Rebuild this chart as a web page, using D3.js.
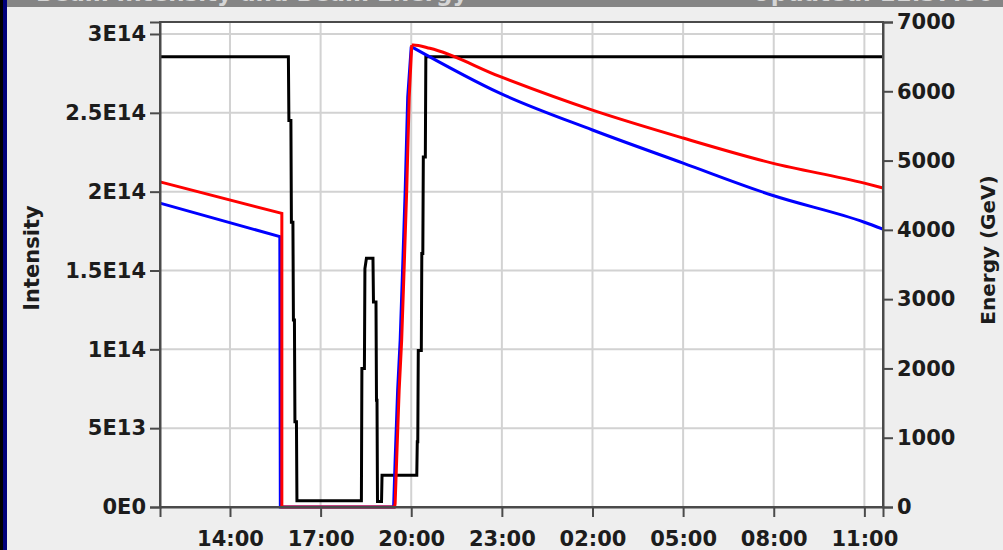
<!DOCTYPE html>
<html>
<head>
<meta charset="utf-8">
<script src="https://cdn.jsdelivr.net/npm/d3@7"></script>
<style>
  body { margin: 0; background: #eeeeee; }
  svg { display: block; }
  text { font-family: "DejaVu Sans", Verdana, sans-serif; font-weight: bold; fill: #1c1c1c; }
</style>
</head>
<body>
<div id="chart"></div>
<script>
// beam energy (black, right axis), GeV
var energyTimes = ["01 11:41", "01 15:56", "01 15:57", "01 16:01", "01 16:02", "01 16:05", "01 16:06",
  "01 16:08", "01 16:09", "01 16:12", "01 16:13", "01 18:21", "01 18:22", "01 18:27", "01 18:28",
  "01 18:31", "01 18:44", "01 18:45", "01 18:50", "01 18:51", "01 18:52", "01 18:53", "01 19:01",
  "01 19:02", "01 20:11", "01 20:12", "01 20:13", "01 20:14", "01 20:20", "01 20:21", "01 20:23",
  "01 20:24", "01 20:28", "01 20:29", "02 11:37"];
var energyValues = [6500, 6500, 5580, 5580, 4110, 4110, 2700,
  2700, 1230, 1230, 90, 90, 2000, 2000, 3440,
  3590, 3590, 2960, 2960, 1540, 1540, 80, 80,
  460, 460, 940, 940, 2260, 2260, 3660, 3660,
  5050, 5050, 6500, 6500];

// beam 1 intensity (red, left axis), units of 1E14
var beam1Times = ["01 11:41", "01 15:43", "01 15:43", "01 19:27", "01 19:28", "01 19:31", "01 19:36",
  "01 19:41", "01 19:46", "01 19:51", "01 19:56", "01 20:01", "01 20:04", "01 20:37", "01 22:57",
  "02 02:00", "02 05:00", "02 07:57", "02 11:00", "02 11:37"];
var beam1Values = [2.062, 1.862, 0, 0, 0.022, 0.296, 0.741,
  1.058, 1.523, 2.01, 2.60, 2.93, 2.93, 2.909, 2.729,
  2.517, 2.340, 2.181, 2.054, 2.023];

// beam 2 intensity (blue, left axis), units of 1E14
var beam2Times = ["01 11:41", "01 15:39", "01 15:40", "01 19:25", "01 19:28", "01 19:33", "01 19:38",
  "01 19:43", "01 19:48", "01 19:53", "01 20:00", "01 22:57",
  "02 02:00", "02 05:00", "02 07:57", "02 11:00", "02 11:37"];
var beam2Values = [1.927, 1.715, 0, 0, 0.296, 0.741, 1.058,
  1.523, 2.01, 2.60, 2.92, 2.623,
  2.391, 2.181, 1.977, 1.806, 1.762];

var intensityTicks = [0, 0.5, 1, 1.5, 2, 2.5, 3];
var intensityLabels = ["0E0", "5E13", "1E14", "1.5E14", "2E14", "2.5E14", "3E14"];
var energyTicks = [0, 1000, 2000, 3000, 4000, 5000, 6000, 7000];
var timeTicks = ["01 14:00", "01 17:00", "01 20:00", "01 23:00", "02 02:00", "02 05:00", "02 08:00", "02 11:00"];
var timeRange = ["01 11:41", "02 11:37"];

var svgWidth = 1003;
var svgHeight = 550;

var margin = { top: 22, right: 120, bottom: 43, left: 160 };
var width = svgWidth - margin.left - margin.right;
var height = svgHeight - margin.top - margin.bottom;

var parseTime = d3.timeParse("%d %H:%M");

var svg = d3.select("#chart")
  .append("svg")
  .attr("width", svgWidth)
  .attr("height", svgHeight);

// window frame bits (title bar is cut off at the top in the reference)
svg.append("rect").attr("width", svgWidth).attr("height", svgHeight).attr("fill", "#eeeeee");
svg.append("defs").append("clipPath").attr("id", "barClip")
  .append("rect").attr("width", svgWidth).attr("height", 7);
svg.append("rect").attr("width", svgWidth).attr("height", 7).attr("fill", "#858585");
var barText = svg.append("g").attr("clip-path", "url(#barClip)");
barText.append("text").attr("x", 36).attr("y", 1).style("font-size", "23px").style("fill", "#d6d6d6")
  .text("Beam Intensity and Beam Energy");
barText.append("text").attr("x", 752).attr("y", 1).style("font-size", "23px").style("fill", "#d6d6d6")
  .text("Updated: 11:37:00");
svg.append("rect").attr("width", 3).attr("height", svgHeight).attr("fill", "#000000");
svg.append("rect").attr("x", 3).attr("width", 4).attr("height", svgHeight).attr("fill", "#00007a");

var chartGroup = svg.append("g")
  .attr("transform", `translate(${margin.left}, ${margin.top})`);

// scales
var xTimeScale = d3.scaleTime()
  .domain(timeRange.map(parseTime))
  .range([0, width]);

var yIntensityScale = d3.scaleLinear()
  .domain([0, 3.076])
  .range([height, 0]);

var yEnergyScale = d3.scaleLinear()
  .domain([0, 7000])
  .range([height, 0]);

chartGroup.append("rect")
  .attr("width", width)
  .attr("height", height)
  .attr("fill", "#ffffff");

// grid
chartGroup.selectAll(".hgrid")
  .data(intensityTicks.slice(1))
  .enter()
  .append("line")
  .attr("x1", 0)
  .attr("x2", width)
  .attr("y1", d => yIntensityScale(d))
  .attr("y2", d => yIntensityScale(d))
  .attr("stroke", "#d2d2d2")
  .attr("stroke-width", 2);

chartGroup.selectAll(".vgrid")
  .data(timeTicks.map(parseTime))
  .enter()
  .append("line")
  .attr("x1", d => xTimeScale(d))
  .attr("x2", d => xTimeScale(d))
  .attr("y1", 0)
  .attr("y2", height)
  .attr("stroke", "#d2d2d2")
  .attr("stroke-width", 2);

// lines
function series(times, values) {
  return times.map((t, i) => ({ t: parseTime(t), v: values[i] }));
}

var energyLine = d3.line()
  .x(d => xTimeScale(d.t))
  .y(d => yEnergyScale(d.v));

var intensityLine = d3.line()
  .x(d => xTimeScale(d.t))
  .y(d => yIntensityScale(d.v));

// the slow decay after injection is smooth, so that part gets a curve
var decayLine = d3.line()
  .curve(d3.curveMonotoneX)
  .x(d => xTimeScale(d.t))
  .y(d => yIntensityScale(d.v));

function drawIntensity(data, colour) {
  var peak = d3.maxIndex(data, d => d.v);
  chartGroup.append("path")
    .datum(data.slice(0, peak + 1))
    .attr("d", intensityLine)
    .attr("fill", "none")
    .attr("stroke", colour)
    .attr("stroke-width", 3);
  chartGroup.append("path")
    .datum(data.slice(peak))
    .attr("d", decayLine)
    .attr("fill", "none")
    .attr("stroke", colour)
    .attr("stroke-width", 3);
}

chartGroup.append("path")
  .datum(series(energyTimes, energyValues))
  .attr("d", energyLine)
  .attr("fill", "none")
  .attr("stroke", "#000000")
  .attr("stroke-width", 3);

drawIntensity(series(beam2Times, beam2Values), "#0000ff");
drawIntensity(series(beam1Times, beam1Values), "#ff0000");

// plot border
chartGroup.append("rect")
  .attr("width", width)
  .attr("height", height)
  .attr("fill", "none")
  .attr("stroke", "#4a4a4a")
  .attr("stroke-width", 2);

// axes
var leftAxis = d3.axisLeft(yIntensityScale)
  .tickValues(intensityTicks)
  .tickFormat((d, i) => intensityLabels[i])
  .tickSize(10)
  .tickPadding(4);

var rightAxis = d3.axisRight(yEnergyScale)
  .tickValues(energyTicks)
  .tickFormat(d3.format("d"))
  .tickSize(10)
  .tickPadding(4);

var bottomAxis = d3.axisBottom(xTimeScale)
  .tickValues(timeTicks.map(parseTime))
  .tickFormat(d3.timeFormat("%H:%M"))
  .tickSize(10)
  .tickPadding(14);

function styleAxis(g) {
  g.selectAll(".domain").attr("stroke", "#4a4a4a").attr("stroke-width", 2);
  g.selectAll(".tick line").attr("stroke", "#4a4a4a").attr("stroke-width", 2);
  g.selectAll(".tick text").style("font-size", "21px").attr("fill", "#1c1c1c");
}

chartGroup.append("g").call(leftAxis).call(styleAxis);

chartGroup.append("g")
  .attr("transform", `translate(${width}, 0)`)
  .call(rightAxis)
  .call(styleAxis);

chartGroup.append("g")
  .attr("transform", `translate(0, ${height})`)
  .call(bottomAxis)
  .call(styleAxis);

// axis titles
svg.append("text")
  .attr("transform", "translate(39, 258) rotate(-90)")
  .attr("text-anchor", "middle")
  .style("font-size", "21px")
  .text("Intensity");

svg.append("text")
  .attr("transform", "translate(995, 250) rotate(-90)")
  .attr("text-anchor", "middle")
  .style("font-size", "20px")
  .text("Energy (GeV)");
</script>
</body>
</html>
